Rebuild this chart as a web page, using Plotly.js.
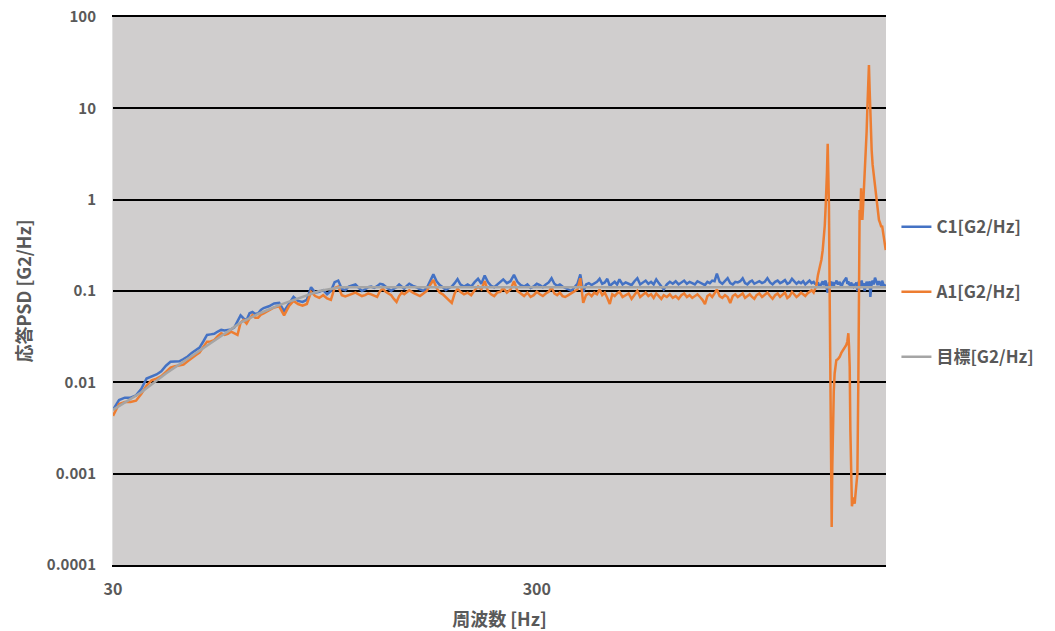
<!DOCTYPE html>
<html>
<head>
<meta charset="utf-8">
<script src="https://cdn.plot.ly/plotly-3.0.1.min.js"></script>
<style>html,body{margin:0;padding:0;background:#fff;}#chart{width:1055px;height:631px;}</style>
</head>
<body>
<div id="chart"></div>
<script>
// ---- Frequencies [Hz] shared by C1 and A1 ----
const freqLow = [30,31,32,33,34,35,36,37,38,39,40,41,42,43,44,45,46,47,48,49,50,51,52,53,54,55,56,57,58,59,60,61,62,63,64,65,66,67,68,
  70,72,74,76,78,80,82,84,86,88,90,92,94,96,98,100,102,104,106,108];
const freqMid = [110,112,114,116,118,120,122,124,126,128,130,132,134,136,138,140,142,144,146,148,150,
  153,156,159,162,165,168,171,174,177,180,183,186,189,192,195,198,
  202,206,210,214,218,222,226,230,234,238,242,246,250,
  255,260,265,270,275,280,285,290,295,300,305,310,315,320,325,330,335,340,345,350,
  356,362,368,374,380,386,392,398,404,410,416,422,428,434,440,446,452,458,464,470,
  478,486,494,502,510,518,526,534,542,550,558,566,574,582,590,598,
  608,618,628,638,648,658,668,678,688,698,708,718,728,738,748,758,768,778,788,798,
  810,822,834,846,858,870,882,894,906,918,930,942,954,966,978,990,
  1005,1020,1035,1050,1065,1080,1095,1110,1125,1140,1155,1170,1185,1200,1215,1230,1245,1260,1275,1290,1305,1320,1335,1350,
  1360];
const freqRes = [1370,1382,1395,1408,1418,1426,1434,1441,1446,1451,
  1457,1462,1467,1473,1478,1483,1489,1494,1499,1506,
  1513,1520,1527,1541,1555,1569,1583,1597,1612,1621,
  1630,1636,1642,1648,1655,1662,1675,1687,1695,1703,
  1712,1721,1727,1733,1740,1747,1752,1759,1765,1771,
  1781,1791,1800,1808,1816,1823,1830,1837,1843,1850,
  1860,1870,1884,1898,1911,1925,1938,1950,1958,1967,
  1982,1997];

// ---- C1 [G2/Hz] ----
const c1Low = [0.0050,0.0064,0.0068,0.0068,0.0072,0.0085,0.0110,0.0116,0.0122,0.0132,
  0.0152,0.0168,0.0170,0.0170,0.0180,0.0192,0.0210,0.0225,0.0240,0.0280,
  0.0330,0.0335,0.0340,0.0360,0.0375,0.0370,0.0372,0.0380,0.0400,0.0470,
  0.0540,0.0500,0.0480,0.0570,0.0590,0.0560,0.0570,0.0620,0.0650,
  0.068,0.073,0.074,0.060,0.072,0.086,0.078,0.076,0.080,0.110,
  0.096,0.098,0.102,0.092,0.100,0.125,0.130,0.105,0.102,0.112];
const c1Mid = [0.115,0.118,0.108,0.100,0.104,0.110,0.112,0.108,0.113,0.120,0.118,0.112,0.104,0.100,0.106,0.110,0.118,0.112,0.106,0.114,0.120,
  0.114,0.110,0.104,0.100,0.108,0.128,0.152,0.128,0.116,0.110,0.102,0.108,0.112,0.122,0.135,0.118,
  0.112,0.118,0.112,0.125,0.136,0.120,0.148,0.125,0.114,0.110,0.118,0.124,0.134,
  0.122,0.128,0.150,0.126,0.116,0.112,0.118,0.108,0.112,0.120,0.116,0.110,0.118,0.124,0.138,0.120,0.114,0.118,0.112,0.108,
  0.104,0.100,0.110,0.120,0.152,0.098,0.118,0.122,0.116,0.120,0.126,0.136,0.120,0.124,0.136,0.114,0.120,0.126,0.118,0.134,
  0.118,0.124,0.120,0.116,0.128,0.138,0.118,0.124,0.130,0.120,0.126,0.118,0.134,0.122,0.112,0.104,
  0.118,0.126,0.120,0.128,0.118,0.124,0.130,0.120,0.126,0.122,0.118,0.128,0.124,0.120,0.116,0.126,0.122,0.130,0.128,0.155,
  0.126,0.120,0.128,0.138,0.122,0.118,0.126,0.124,0.128,0.138,0.122,0.118,0.126,0.130,0.120,0.124,
  0.128,0.122,0.126,0.138,0.124,0.118,0.126,0.130,0.122,0.126,0.132,0.120,0.124,0.136,0.128,0.120,0.126,0.122,0.128,0.118,0.124,0.130,0.122,0.126,
  0.120];
const c1Res = [0.118,0.124,0.110,0.120,0.128,0.116,0.122,0.130,0.112,0.100,
  0.096,0.110,0.124,0.118,0.128,0.120,0.114,0.126,0.118,0.112,
  0.124,0.120,0.130,0.118,0.126,0.110,0.124,0.132,0.140,0.120,
  0.128,0.116,0.122,0.110,0.124,0.118,0.112,0.120,0.116,0.124,
  0.100,0.118,0.128,0.120,0.112,0.124,0.130,0.118,0.110,0.122,
  0.100,0.114,0.126,0.120,0.112,0.120,0.128,0.086,0.110,0.122,
  0.130,0.118,0.140,0.124,0.116,0.128,0.120,0.112,0.130,0.124,
  0.110,0.118];

// ---- A1 [G2/Hz] ----
const a1Low = [0.0043,0.0058,0.0061,0.0061,0.0063,0.0075,0.0092,0.0105,0.0110,0.0117,
  0.0130,0.0145,0.0150,0.0152,0.0156,0.0170,0.0185,0.0198,0.0212,0.0240,
  0.0279,0.0280,0.0290,0.0320,0.0345,0.0330,0.0340,0.0358,0.0340,0.0330,
  0.0450,0.0480,0.0440,0.0500,0.0546,0.0510,0.0510,0.0550,0.0570,
  0.062,0.066,0.068,0.054,0.068,0.078,0.072,0.069,0.072,0.098,
  0.088,0.084,0.090,0.083,0.080,0.108,0.112,0.090,0.087,0.090];
const a1Mid = [0.094,0.096,0.092,0.088,0.090,0.094,0.092,0.088,0.086,0.100,0.106,0.098,0.094,0.090,0.082,0.076,0.088,0.096,0.092,0.098,0.102,
  0.096,0.092,0.088,0.094,0.100,0.116,0.132,0.108,0.096,0.092,0.086,0.080,0.074,0.094,0.106,0.098,
  0.092,0.096,0.090,0.102,0.112,0.104,0.128,0.100,0.092,0.088,0.096,0.098,0.108,
  0.096,0.104,0.128,0.100,0.094,0.088,0.096,0.086,0.090,0.098,0.092,0.088,0.094,0.098,0.110,0.094,0.090,0.096,0.088,0.086,
  0.090,0.094,0.098,0.104,0.138,0.074,0.090,0.094,0.088,0.096,0.092,0.104,0.090,0.096,0.084,0.072,0.092,0.088,0.094,0.098,
  0.086,0.090,0.094,0.082,0.092,0.100,0.086,0.090,0.096,0.088,0.092,0.084,0.094,0.088,0.082,0.090,
  0.086,0.092,0.084,0.088,0.082,0.090,0.094,0.086,0.090,0.084,0.088,0.092,0.086,0.080,0.072,0.088,0.092,0.086,0.094,0.104,
  0.088,0.084,0.090,0.086,0.074,0.088,0.092,0.086,0.090,0.094,0.084,0.088,0.092,0.086,0.082,0.090,
  0.094,0.086,0.090,0.096,0.088,0.082,0.090,0.094,0.086,0.090,0.096,0.084,0.088,0.098,0.092,0.086,0.090,0.096,0.092,0.088,0.094,0.098,0.102,0.096,
  0.104];
const a1Res = [0.115,0.15,0.18,0.22,0.28,0.36,0.52,0.84,1.2,1.96,
  4.1,1.8,0.84,0.08,0.011,0.001,0.00026,0.0012,0.0036,0.008,
  0.0125,0.015,0.0175,0.018,0.019,0.021,0.0226,0.024,0.0257,0.028,
  0.0345,0.025,0.0148,0.003,0.0009,0.00044,0.00055,0.00047,0.0006,0.00085,
  0.001,0.0106,0.2,0.77,0.6,1.33,0.9,0.6,0.8,1.07,
  1.8,2.95,5.5,10.4,20,29.8,16,8,5,3.5,
  2.4,1.94,1.4,1.07,0.8,0.6,0.55,0.5,0.52,0.45,
  0.38,0.28];

// ---- 目標 [G2/Hz] ----
const targetFreq = [30,35,40,45,50,55,60,66,74,83,92,103,2000];
const targetVal  = [0.005,0.0078,0.0125,0.018,0.025,0.034,0.045,0.056,0.07,0.084,0.1,0.11,0.11];

// ---- Labels / ticks ----
const seriesNames = ['C1[G2/Hz]','A1[G2/Hz]','目標[G2/Hz]'];
const yTickVals = [0.0001,0.001,0.01,0.1,1,10,100];
const yTickText = ['0.0001','0.001','0.01','0.1','1','10','100'];
const xTickVals = [30,300];
const xTickText = ['30','300'];

const freq = freqLow.concat(freqMid, freqRes);
const c1 = c1Low.concat(c1Mid, c1Res);
const a1 = a1Low.concat(a1Mid, a1Res);

const FONT = "'Noto Sans CJK JP', 'Noto Sans', sans-serif";
const TXT = '#595959';

const traces = [
  {x: freq, y: c1, name: seriesNames[0], type: 'scatter', mode: 'lines',
   line: {color: '#4472c4', width: 2.5}, legendgroup: 'a'},
  {x: freq, y: a1, name: seriesNames[1], type: 'scatter', mode: 'lines',
   line: {color: '#ed7d31', width: 2.5}, legendgroup: 'b'},
  {x: targetFreq, y: targetVal, name: seriesNames[2], type: 'scatter', mode: 'lines',
   line: {color: '#a5a5a5', width: 2.5}, legendgroup: 'c'}
];

const layout = {
  width: 1055, height: 631,
  margin: {l: 113, r: 169, t: 17, b: 66, pad: 0},
  paper_bgcolor: '#ffffff',
  plot_bgcolor: '#d0cece',
  font: {family: FONT, color: TXT, size: 15, weight: 700},
  showlegend: true,
  legend: {
    x: 1.0135, xanchor: 'left', y: 0.498, yanchor: 'middle',
    font: {family: FONT, color: TXT, size: 17, weight: 700},
    tracegroupgap: 40, bgcolor: 'rgba(0,0,0,0)', itemwidth: 30
  },
  xaxis: {
    type: 'log',
    range: [Math.log10(30), Math.log10(2000)],
    tickmode: 'array', tickvals: xTickVals, ticktext: xTickText,
    showgrid: false, zeroline: false,
    showline: true, linecolor: '#000000', linewidth: 2, mirror: true,
    ticks: '', ticklabelstandoff: 9,
    tickfont: {family: FONT, color: TXT, size: 16, weight: 700},
    title: {text: '周波数 [Hz]', standoff: 14,
            font: {family: FONT, color: TXT, size: 18, weight: 700}}
  },
  yaxis: {
    type: 'log',
    range: [-4, 2],
    tickmode: 'array', tickvals: yTickVals, ticktext: yTickText,
    showgrid: true, gridcolor: '#000000', gridwidth: 2,
    zeroline: false,
    showline: true, linecolor: '#e0e0e0', linewidth: 1,
    ticks: '', ticklabelstandoff: 13,
    tickfont: {family: FONT, color: TXT, size: 15, weight: 700},
    title: {text: '応答PSD [G2/Hz]', standoff: 10,
            font: {family: FONT, color: TXT, size: 18, weight: 700}}
  }
};

Plotly.newPlot('chart', traces, layout, {displayModeBar: false, staticPlot: true});
</script>
</body>
</html>
